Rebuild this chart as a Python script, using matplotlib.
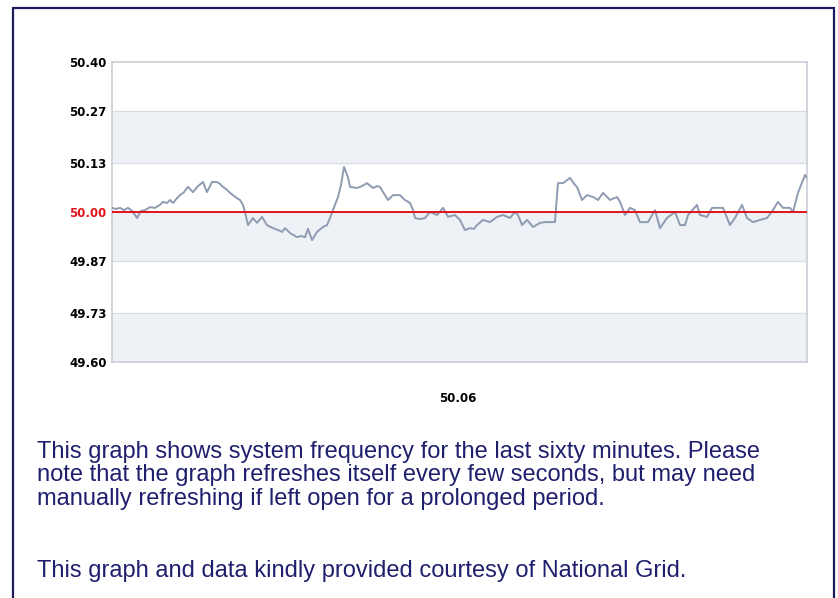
import matplotlib
matplotlib.use("Agg")
import matplotlib.pyplot as plt
from matplotlib.patches import Rectangle

# ---- data (minutes into the last hour, system frequency in Hz) ----
minutes = [0.0, 0.35, 0.69, 1.04, 1.38, 1.73, 2.16, 2.50, 2.85, 3.28, 3.71, 4.14, 4.40, 4.75,
           5.01, 5.27, 5.61, 5.87, 6.22, 6.56, 6.99, 7.42, 7.86, 8.20, 8.63, 9.06, 9.32, 9.58,
           9.93, 10.19, 10.53, 10.79, 11.05, 11.31, 11.48, 11.74, 12.17, 12.52, 12.95, 13.38,
           13.90, 14.33, 14.68, 14.94, 15.37, 15.97, 16.32, 16.66, 16.92, 17.27, 17.70, 18.22,
           18.56, 18.82, 19.08, 19.51, 19.77, 20.03, 20.37, 20.55, 21.15, 21.58, 22.01, 22.53,
           22.88, 23.14, 23.40, 23.83, 24.26, 24.86, 25.29, 25.73, 25.99, 26.16, 26.59, 27.02,
           27.45, 28.06, 28.58, 29.01, 29.61, 30.04, 30.47, 30.91, 31.25, 31.51, 32.03, 32.63,
           33.24, 33.76, 34.36, 34.79, 35.05, 35.40, 35.83, 36.35, 36.95, 37.38, 37.81, 38.24,
           38.50, 38.94, 39.54, 39.97, 40.14, 40.58, 41.01, 41.53, 41.96, 42.39, 42.99, 43.60,
           43.86, 44.29, 44.72, 45.15, 45.58, 46.27, 46.88, 47.31, 47.91, 48.60, 49.04, 49.47,
           49.73, 50.50, 50.76, 51.37, 51.80, 52.75, 53.35, 53.78, 54.39, 54.82, 55.34, 55.94,
           56.55, 57.06, 57.49, 57.93, 58.53, 58.79, 59.22, 59.83, 60.0]
frequency = [50.011, 50.008, 50.011, 50.005, 50.011, 50.003, 49.984, 50.003, 50.005, 50.013,
             50.011, 50.019, 50.027, 50.024, 50.032, 50.024, 50.037, 50.045, 50.053, 50.067,
             50.053, 50.069, 50.080, 50.053, 50.080, 50.080, 50.075, 50.067, 50.059, 50.051,
             50.043, 50.037, 50.032, 50.019, 50.000, 49.965, 49.984, 49.971, 49.987, 49.965,
             49.957, 49.952, 49.947, 49.957, 49.944, 49.933, 49.936, 49.933, 49.955, 49.925,
             49.947, 49.960, 49.965, 49.984, 50.005, 50.040, 50.072, 50.120, 50.093, 50.067,
             50.064, 50.069, 50.077, 50.064, 50.069, 50.067, 50.053, 50.032, 50.045, 50.045,
             50.032, 50.024, 50.005, 49.984, 49.981, 49.984, 50.000, 49.992, 50.011, 49.987,
             49.992, 49.979, 49.952, 49.957, 49.955, 49.965, 49.979, 49.973, 49.987, 49.992,
             49.984, 50.000, 49.992, 49.965, 49.979, 49.960, 49.971, 49.973, 49.973, 49.973,
             50.077, 50.077, 50.091, 50.072, 50.067, 50.032, 50.045, 50.040, 50.032, 50.051,
             50.032, 50.040, 50.027, 49.992, 50.011, 50.005, 49.973, 49.973, 50.005, 49.957,
             49.984, 50.000, 49.965, 49.965, 49.992, 50.019, 49.992, 49.987, 50.011, 50.011,
             49.965, 49.984, 50.019, 49.984, 49.973, 49.979, 49.984, 50.005, 50.027, 50.011,
             50.011, 50.000, 50.051, 50.099, 50.091]

nominal = 50.00
y_ticks = [49.60, 49.73, 49.87, 50.00, 50.13, 50.27, 50.40]
y_tick_labels = ["49.60", "49.73", "49.87", "50.00", "50.13", "50.27", "50.40"]
current_reading = "50.06"
text_lines = ["This graph shows system frequency for the last sixty minutes. Please",
              "note that the graph refreshes itself every few seconds, but may need",
              "manually refreshing if left open for a prolonged period."]
credit = "This graph and data kindly provided courtesy of National Grid."

W, H = 838, 598
fig = plt.figure(figsize=(W / 100, H / 100), dpi=100)
fig.patch.set_facecolor("white")

# outer navy frame
fig.patches.append(Rectangle((13 / W, -0.05), (834 - 13) / W, 1.05 - 8 / H,
                             transform=fig.transFigure, fill=False,
                             edgecolor="#1c1c5c", linewidth=1.6))

ax = fig.add_axes([112 / W, (H - 362) / H, 695 / W, 300 / H])
ax.set_xlim(0, 60)
ax.set_ylim(49.60, 50.40)

# alternating bands
band_color = "#eef2f7"
for lo, hi in [(49.60, 49.73), (49.87, 50.00), (50.13, 50.27)]:
    ax.axhspan(lo, hi, color=band_color, zorder=0, lw=0)
for t in y_ticks[1:-1]:
    ax.axhline(t, color="#d8dce2", lw=0.9, zorder=1)

ax.plot(minutes, frequency, color="#8e9bb0", lw=1.4, zorder=3)
ax.axhline(nominal, color="#e0141c", lw=1.4, zorder=4)

for s in ax.spines.values():
    s.set_color("#c9ced6")
    s.set_linewidth(1.2)
ax.set_xticks([])
ax.set_yticks(y_ticks)
ax.set_yticklabels(y_tick_labels, fontsize=8.5, fontweight="bold")
ax.tick_params(axis="y", length=0, pad=4)
for lbl in ax.get_yticklabels():
    if lbl.get_text() == "50.00":
        lbl.set_color("#e0141c")

fig.text(458 / W, 1 - 398 / H, current_reading, ha="center", va="center",
         fontsize=8.5, fontweight="bold")

navy = "#1f1f6e"
for i, line in enumerate(text_lines):
    fig.text(37 / W, 1 - (458 + 23.5 * i) / H, line, ha="left", va="baseline",
             fontsize=17, family="Liberation Sans", color=navy)
fig.text(37 / W, 1 - 577 / H, credit, ha="left", va="baseline", fontsize=17,
         family="Liberation Sans", color=navy)

fig.savefig("out.png", dpi=100)
